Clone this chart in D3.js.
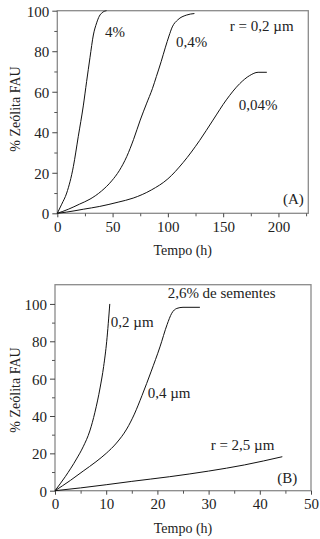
<!DOCTYPE html>
<html>
<head>
<meta charset="utf-8">
<script src="https://cdn.jsdelivr.net/npm/d3@7"></script>
<style>
  body { margin: 0; background: #fff; }
  svg { display: block; }
  text { font-family: "Liberation Serif", "Times New Roman", "DejaVu Serif", serif; fill: #222; }
</style>
</head>
<body>
<svg id="chart" width="320" height="539"></svg>
<script>
// ---- panel A : seed % at r = 0,2 um  (time h, % FAU)
const curveA_4 = [[0,0],[4,4.5],[8.5,10],[14.5,23],[19,38],[23.5,53],[26.5,65],[29.6,77],[32.6,88],[35.6,94],[38,97.3],[40.5,99],[44.5,100]];
const curveA_04 = [[0,0],[10,2],[20,4.5],[29.6,7],[40,11],[49.2,16],[56,21],[62.8,28],[69,36.5],[75,46],[80.6,54],[86,61.5],[89.6,67.5],[94,75],[97.8,82],[101,87.5],[104,92],[109,95.5],[116.6,97.8],[124,98.6]];
const curveA_004 = [[0,0],[8.5,0.6],[23.5,2],[38.4,3.4],[55,5.5],[68.6,7.5],[85,11.5],[100,17],[113.7,25],[128.8,36],[140.8,46],[152.9,56],[165,64],[174,68],[181.6,69.6],[189.5,69.6]];
const labelsA = ["4%", "0,4%", "r = 0,2 µm", "0,04%", "(A)"];
const labelPosA = [[43.2,87],[107.4,82],[156,90],[164,51],[223,4.6]];
const xTicksA = [0, 50, 100, 150, 200];
const yTicksA = [0, 20, 40, 60, 80, 100];

// ---- panel B : 2,6 % seeds, crystal radius
const curveB_02 = [[0,0],[2,7.5],[4.2,17],[5.5,23.5],[6.8,32],[7.8,42],[8.8,55],[9.5,66.5],[10.1,80],[10.7,100]];
const curveB_04 = [[0,0],[3,5.5],[5.5,10.5],[8,15.5],[10,20],[12,25.5],[14,33],[15.5,41],[17,51],[18.8,64],[20.5,77],[21.9,89],[22.8,95],[23.8,97.6],[25,98.2],[28.3,98.2]];
const curveB_25 = [[0,0],[5,1.5],[10,3.2],[15,5],[22.4,7.5],[30,10.5],[37,13.8],[44.4,18.2]];
const labelsB = ["0,2 µm", "2,6% de sementes", "0,4 µm", "r = 2,5 µm", "(B)"];
const labelPosB = [[10.9,87.6],[22,103],[18.1,49.6],[30.4,21.8],[47.3,4.1]];
const xTicksB = [0, 10, 20, 30, 40, 50];
const yTicksB = [0, 20, 40, 60, 80, 100];

const svg = d3.select("#chart");

function drawPanel(p) {
  const x = d3.scaleLinear().domain(p.xDomain).range([p.left, p.right]);
  const y = d3.scaleLinear().domain(p.yDomain).range([p.bottom, p.top]);
  const g = svg.append("g");

  // frame
  g.append("rect")
    .attr("x", p.left).attr("y", p.top)
    .attr("width", p.right - p.left).attr("height", p.bottom - p.top)
    .attr("fill", "none").attr("stroke", "#8a8a8a").attr("stroke-width", 1.3);

  // minor ticks
  g.append("g").attr("transform", `translate(0,${p.bottom})`)
    .call(d3.axisBottom(x).tickValues(p.xMinor).tickSize(3).tickFormat(""))
    .call(a => a.select(".domain").remove())
    .selectAll("line").attr("stroke", "#555");
  g.append("g").attr("transform", `translate(${p.left},0)`)
    .call(d3.axisLeft(y).tickValues(p.yMinor).tickSize(3).tickFormat(""))
    .call(a => a.select(".domain").remove())
    .selectAll("line").attr("stroke", "#555");

  // major ticks + labels
  const xa = g.append("g").attr("transform", `translate(0,${p.bottom})`)
    .call(d3.axisBottom(x).tickValues(p.xTicks).tickSize(4).tickPadding(4));
  const ya = g.append("g").attr("transform", `translate(${p.left},0)`)
    .call(d3.axisLeft(y).tickValues(p.yTicks).tickSize(5).tickPadding(3));
  [xa, ya].forEach(a => {
    a.select(".domain").remove();
    a.selectAll("line").attr("stroke", "#444");
    a.selectAll("text").attr("font-size", 15).attr("fill", "#222");
  });
  ya.selectAll("text").attr("dy", "0.36em");

  // curves
  const line = d3.line().x(d => x(d[0])).y(d => y(d[1])).curve(d3.curveMonotoneX);
  g.selectAll("path.curve").data(p.series).join("path")
    .attr("class", "curve")
    .attr("d", line)
    .attr("fill", "none").attr("stroke", "#111").attr("stroke-width", 1);

  // annotations
  g.selectAll("text.ann").data(p.labels).join("text")
    .attr("class", "ann")
    .attr("x", (d, i) => x(p.labelPos[i][0]))
    .attr("y", (d, i) => y(p.labelPos[i][1]))
    .attr("text-anchor", (d, i) => i === p.labels.length - 1 ? "end" : "start")
    .attr("font-size", 15)
    .text(d => d);

  // axis titles
  g.append("text")
    .attr("x", (p.left + p.right) / 2).attr("y", p.xTitleY)
    .attr("text-anchor", "middle").attr("font-size", 14)
    .text("Tempo (h)");
  g.append("text")
    .attr("transform", `translate(${p.yTitleX},${p.yTitleC}) rotate(-90)`)
    .attr("text-anchor", "middle").attr("font-size", 14)
    .text("% Zeólita FAU");
}

drawPanel({
  left: 57.3, right: 308.3, top: 10.7, bottom: 213.3,
  xDomain: [0, 227], yDomain: [0, 100],
  xTicks: xTicksA, yTicks: yTicksA,
  xMinor: d3.range(25, 227, 50), yMinor: d3.range(10, 100, 20),
  series: [curveA_4, curveA_04, curveA_004],
  labels: labelsA, labelPos: labelPosA,
  xTitleY: 255, yTitleX: 20, yTitleC: 109
});

drawPanel({
  left: 55, right: 311, top: 284.7, bottom: 490.7,
  xDomain: [0, 50], yDomain: [0, 110.3],
  xTicks: xTicksB, yTicks: yTicksB,
  xMinor: d3.range(5, 50, 10), yMinor: d3.range(10, 110, 20),
  series: [curveB_02, curveB_04, curveB_25],
  labels: labelsB, labelPos: labelPosB,
  xTitleY: 533, yTitleX: 20, yTitleC: 390
});
</script>
</body>
</html>
